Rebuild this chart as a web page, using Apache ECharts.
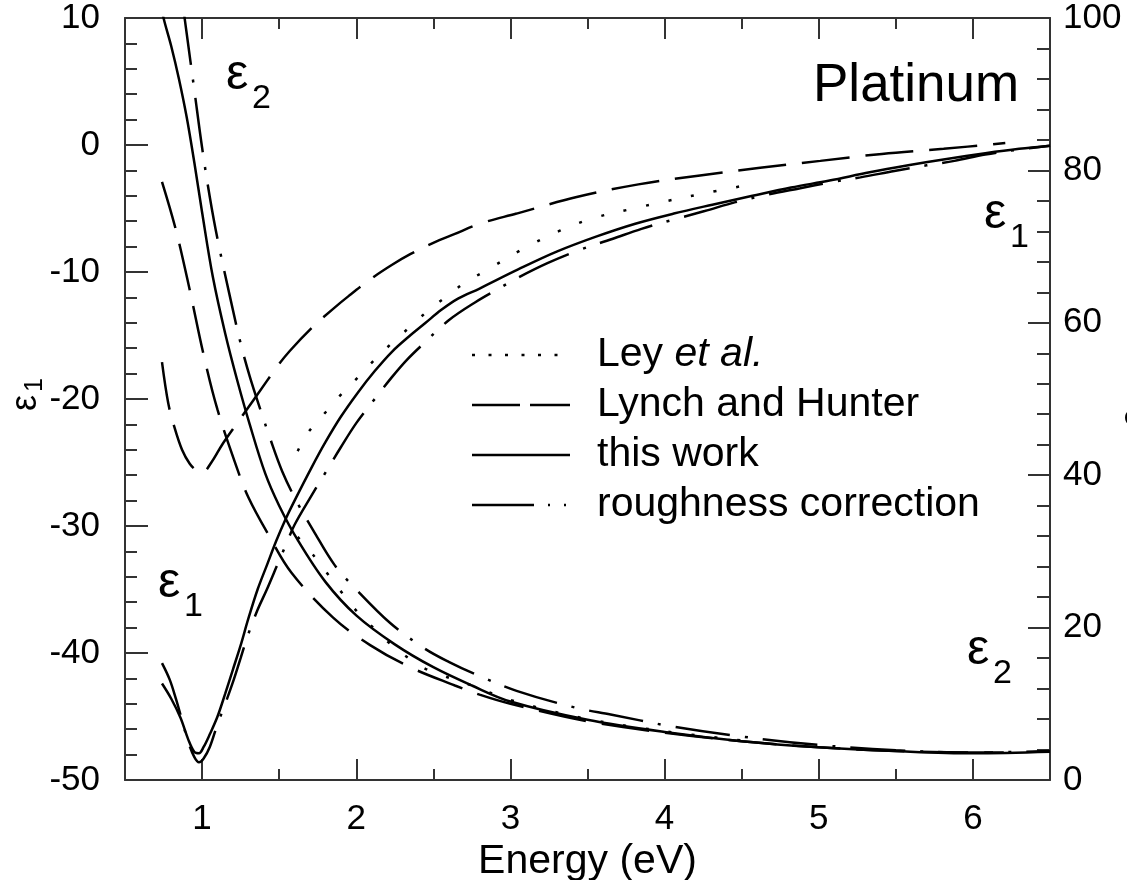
<!DOCTYPE html>
<html>
<head>
<meta charset="UTF-8">
<title>Platinum</title>
<style>html,body{margin:0;padding:0;background:#fff;}</style>
</head>
<body>
<div id="chart" style="width:1127px;height:880px;"></div>
<script src="https://cdn.jsdelivr.net/npm/echarts@6/dist/echarts.min.js"></script>
<script>
// [energy (eV), value]
var leyEps1 = [[1.62,-24.1],[1.69,-22.6],[1.79,-21.2],[1.89,-19.8],[2.01,-18.3],[2.12,-16.9],[2.24,-15.5],[2.36,-14.2],[2.47,-13.0],[2.6,-11.8],[2.71,-10.8],[2.84,-9.9],[3.08,-8.2],[3.32,-6.75],[3.54,-5.75],[3.78,-5.05],[4.02,-4.4],[4.26,-3.8],[4.49,-3.26]];
var leyEps2 = [[1.62,31.9],[1.73,29.3],[1.82,26.9],[1.91,24.5],[2.01,22.0],[2.12,19.8],[2.23,17.7],[2.36,15.7],[2.47,14.4],[2.75,12.4],[3.0,10.5],[3.5,8.0],[4.0,6.4],[4.5,5.2]];

var lynchEps1 = [[0.74,-17.1],[0.78,-20.3],[0.82,-22.2],[0.87,-24.0],[0.92,-25.1],[0.97,-25.7],[1.0,-25.8],[1.06,-25.0],[1.13,-23.6],[1.21,-22.2],[1.35,-19.8],[1.49,-17.4],[1.57,-16.2],[1.72,-14.3],[1.85,-12.9],[1.95,-11.9],[2.1,-10.5],[2.23,-9.45],[2.35,-8.6],[2.5,-7.7],[2.64,-7.0],[2.8,-6.2],[3.04,-5.4],[3.43,-4.1],[3.83,-3.1],[4.23,-2.4],[4.62,-1.8],[5.01,-1.25],[5.41,-0.7],[5.81,-0.3],[6.21,0.15]];
var lynchEps2 = [[0.74,78.5],[0.83,72.2],[0.92,64.3],[1.01,55.8],[1.1,48.6],[1.22,41.3],[1.3,37.1],[1.43,32.2],[1.58,27.2],[1.85,21.3],[2.09,17.7],[2.35,14.8],[2.64,12.4],[2.8,11.2],[3.0,10.0],[3.5,7.7],[4.0,6.2],[4.5,5.1],[5.0,4.3],[5.5,3.8],[6.0,3.6],[6.2,3.6]];

var thisWorkEps1 = [[0.74,-42.4],[0.8,-43.6],[0.86,-45.1],[0.91,-46.8],[0.95,-47.8],[0.98,-47.9],[1.01,-47.4],[1.05,-46.4],[1.1,-45.0],[1.15,-43.2],[1.2,-41.3],[1.25,-39.4],[1.3,-37.3],[1.36,-35.0],[1.42,-33.1],[1.48,-31.2],[1.54,-29.5],[1.6,-28.0],[1.71,-25.4],[1.8,-23.4],[1.9,-21.4],[2.01,-19.5],[2.12,-17.8],[2.23,-16.3],[2.34,-15.1],[2.45,-14.0],[2.55,-13.0],[2.66,-12.1],[2.8,-11.3],[3.05,-9.8],[3.3,-8.4],[3.56,-7.2],[3.81,-6.2],[4.06,-5.4],[4.31,-4.7],[4.57,-4.0],[4.82,-3.35],[5.07,-2.8],[5.33,-2.15],[5.58,-1.6],[5.83,-1.1],[6.08,-0.65],[6.3,-0.3],[6.5,-0.05]];
var thisWorkEps2 = [[0.72,103],[0.75,100],[0.8,96.3],[0.85,92],[0.9,87],[0.95,81],[1.0,74.5],[1.07,66],[1.15,58.6],[1.23,52.3],[1.31,46.6],[1.41,40.2],[1.5,36.0],[1.62,31.5],[1.8,26.0],[2.0,21.6],[2.25,17.8],[2.5,14.8],[2.75,12.4],[3.0,10.3],[3.5,7.9],[4.0,6.3],[4.5,5.1],[5.0,4.3],[5.5,3.8],[6.0,3.5],[6.5,3.7]];

var roughEps1 = [[0.74,-40.8],[0.79,-42.1],[0.83,-43.6],[0.87,-45.3],[0.91,-47.0],[0.95,-48.2],[0.98,-48.6],[1.01,-48.3],[1.05,-47.4],[1.1,-45.6],[1.15,-44.0],[1.2,-42.3],[1.25,-40.4],[1.3,-38.5],[1.36,-36.6],[1.42,-35.0],[1.49,-33.0],[1.55,-31.3],[1.6,-29.9],[1.7,-27.8],[1.8,-25.8],[1.9,-23.8],[2.0,-21.9],[2.12,-20.0],[2.23,-18.3],[2.33,-16.9],[2.44,-15.6],[2.6,-13.8],[2.77,-12.4],[2.94,-11.2],[3.04,-10.5],[3.24,-9.3],[3.44,-8.3],[3.66,-7.4],[3.85,-6.6],[4.05,-5.9],[4.26,-5.2],[4.46,-4.5],[4.67,-3.9],[4.88,-3.4],[5.07,-2.95],[5.27,-2.55],[5.49,-2.05],[5.7,-1.6],[5.88,-1.25],[6.08,-0.75],[6.3,-0.35],[6.5,-0.05]];
var roughEps2 = [[0.88,101],[0.9,98],[0.95,90.5],[1.0,83],[1.05,76.5],[1.1,71],[1.18,63.5],[1.25,57.3],[1.31,52.9],[1.38,48.5],[1.44,44.9],[1.52,40.5],[1.62,36.3],[1.72,32.8],[1.86,28.2],[2.0,25.0],[2.22,20.6],[2.44,17.3],[2.6,15.5],[2.77,13.9],[3.04,11.7],[3.42,9.5],[3.65,8.6],[4.03,7.1],[4.5,5.7],[5.0,4.6],[5.5,3.9],[6.0,3.6],[6.5,3.8]];

var xMajor = [1, 2, 3, 4, 5, 6];
var xMinor = [1.5, 2.5, 3.5, 4.5, 5.5];

var FONT = '"Liberation Sans", Arial, sans-serif';
var AX = '#333';

var chart = echarts.init(document.getElementById('chart'));

function curve(data, yIdx, dash) {
	return {
		type: 'line',
		data: data,
		xAxisIndex: 0,
		yAxisIndex: yIdx,
		showSymbol: false,
		smooth: 0.35,
		silent: true,
		lineStyle: { color: '#000', width: 2.5, type: dash }
	};
}

function xAx(pos, vals, len, showLine, labels) {
	return {
		type: 'value', position: pos, min: 0.5, max: 6.5,
		axisLine: { show: showLine, onZero: false, lineStyle: { color: AX, width: 2 } },
		axisTick: { inside: true, length: len, customValues: vals, lineStyle: { color: AX, width: 2 } },
		axisLabel: labels ? { customValues: vals, margin: 22, color: '#000', fontSize: 35, fontFamily: FONT } : { show: false },
		splitLine: { show: false }
	};
}

var DOTS = [3, 20], DASH = [48, 16], DASHDOT = [55, 15, 3, 15];

var bottomAxis = xAx('bottom', xMajor, 21, true, true);
bottomAxis.name = 'Energy (eV)';
bottomAxis.nameLocation = 'middle';
bottomAxis.nameGap = 61;
bottomAxis.nameMoveOverlap = false;
bottomAxis.nameTextStyle = { fontSize: 41, color: '#000', fontFamily: FONT };

function eps(x, y, sub) {
	return [
		{ type: 'text', x: x, y: y, style: { text: 'ε', font: '50px ' + FONT, fill: '#000', verticalAlign: 'middle' } },
		{ type: 'text', x: x + 26, y: y + 24, style: { text: sub, font: '34px ' + FONT, fill: '#000', verticalAlign: 'middle' } }
	];
}

// rotated axis title (ε with subscript) reading bottom to top
function axisTitle(x, y, sub) {
	return {
		type: 'group', x: x, y: y, rotation: Math.PI / 2,
		children: [
			{ type: 'text', x: -16, y: 0, style: { text: 'ε', font: '36px ' + FONT, fill: '#000', verticalAlign: 'middle' } },
			{ type: 'text', x: 3, y: 9, style: { text: sub, font: '25px ' + FONT, fill: '#000', verticalAlign: 'middle' } }
		]
	};
}

function legendRow(y, dash, rich) {
	return [
		{ type: 'line', shape: { x1: 472, y1: y, x2: 570, y2: y }, style: { stroke: '#000', lineWidth: 2.5, lineDash: dash } },
		{ type: 'text', x: 597, y: y, style: { text: rich, font: '41px ' + FONT, fill: '#000', verticalAlign: 'middle',
			rich: { n: { fontSize: 41, fontFamily: FONT }, i: { fontSize: 41, fontFamily: FONT, fontStyle: 'italic' } } } }
	];
}

var graphics = [].concat(
	eps(226, 75, '2'),
	eps(984, 214, '1'),
	eps(158, 583, '1'),
	eps(967, 650, '2'),
	[axisTitle(26, 395, '1'), axisTitle(1135, 410, '2')],
	[{ type: 'text', x: 813, y: 86, style: { text: 'Platinum', font: '53px ' + FONT, fill: '#000', verticalAlign: 'middle' } }],
	legendRow(355, [3, 13.5], '{n|Ley }{i|et al.}'),
	legendRow(405, [48, 10], 'Lynch and Hunter'),
	legendRow(455, null, 'this work'),
	legendRow(505, [62, 14, 2, 14, 2, 100], 'roughness correction')
);

var option = {
	backgroundColor: '#fff',
	animation: false,
	grid: { left: 125, right: 77, top: 18, bottom: 100, containLabel: false, outerBoundsMode: 'none' },
	xAxis: [
		bottomAxis,
		xAx('bottom', xMinor, 11, false, false),
		xAx('top', xMajor, 21, true, false),
		xAx('top', xMinor, 11, false, false)
	],
	yAxis: [{
		type: 'value', position: 'left', min: -50, max: 10, interval: 10,
		axisLine: { show: true, onZero: false, lineStyle: { color: AX, width: 2 } },
		axisTick: { inside: true, length: 23, lineStyle: { color: AX, width: 2 } },
		minorTick: { show: true, splitNumber: 5, length: 12, lineStyle: { color: AX, width: 2 } },
		axisLabel: { margin: 25, color: '#000', fontSize: 35, fontFamily: FONT },
		splitLine: { show: false }
	}, {
		type: 'value', position: 'right', min: 0, max: 100, interval: 20,
		axisLine: { show: true, onZero: false, lineStyle: { color: AX, width: 2 } },
		axisTick: { inside: true, length: 22, lineStyle: { color: AX, width: 2 } },
		minorTick: { show: true, splitNumber: 5, length: 13, lineStyle: { color: AX, width: 2 } },
		axisLabel: { margin: 13, color: '#000', fontSize: 35, fontFamily: FONT },
		splitLine: { show: false }
	}],
	graphic: graphics,
	series: [
		curve(leyEps1, 0, DOTS),
		curve(leyEps2, 1, DOTS),
		curve(lynchEps1, 0, DASH),
		curve(lynchEps2, 1, DASH),
		curve(thisWorkEps1, 0, 'solid'),
		curve(thisWorkEps2, 1, 'solid'),
		curve(roughEps1, 0, DASHDOT),
		curve(roughEps2, 1, DASHDOT)
	]
};
chart.setOption(option);
</script>
</body>
</html>
